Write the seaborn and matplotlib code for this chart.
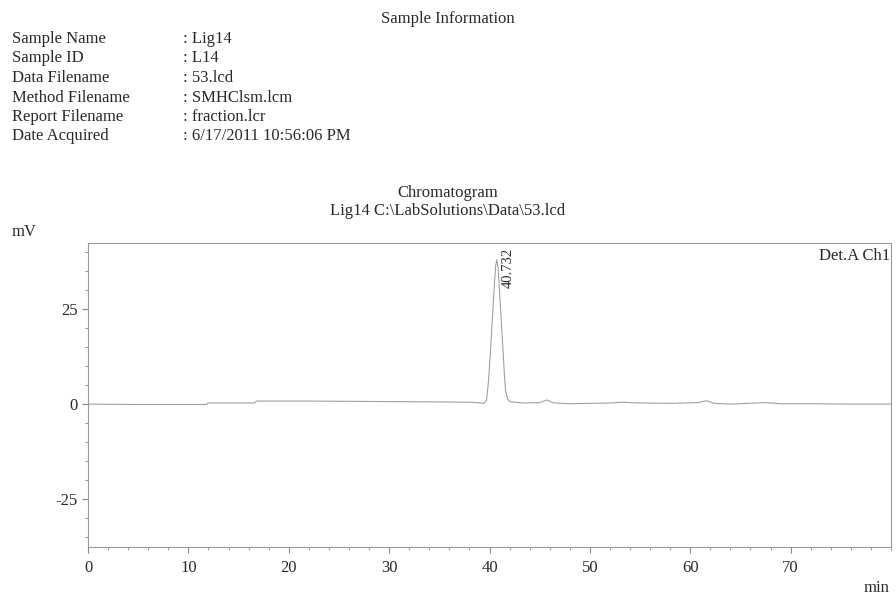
import matplotlib
matplotlib.use("Agg")
import matplotlib.pyplot as plt
import seaborn as sns
import pandas as pd
from matplotlib.ticker import MultipleLocator

# ---- data ----
time_min = [0, 5, 11.8, 12.0, 16.6, 16.8, 22, 28, 34, 38, 39.2, 39.43, 39.7, 39.9,
            40.1, 40.3, 40.5, 40.62, 40.73, 40.85, 40.95, 41.15, 41.35, 41.5, 41.6,
            41.8, 42.1, 42.5, 43.5, 45.0, 45.7, 46.4, 48, 50, 52, 53.2, 55, 58,
            60.8, 61.6, 62.4, 64, 67.5, 69, 72, 76, 80]
signal_mv = [0.0, -0.1, -0.1, 0.3, 0.3, 0.8, 0.8, 0.7, 0.6, 0.5, 0.3, 0.2, 1.0, 6.0,
             14.0, 23.0, 32.0, 36.5, 38.0, 36.0, 32.0, 23.0, 14.0, 7.0, 3.5,
             1.3, 0.6, 0.5, 0.3, 0.4, 1.1, 0.3, 0.1, 0.2, 0.3, 0.5, 0.3, 0.2,
             0.4, 0.9, 0.2, 0.0, 0.4, 0.1, 0.1, 0.0, 0.0]
peak_time = 40.732
x_ticks = [0, 10, 20, 30, 40, 50, 60, 70]
y_ticks = [-25, 0, 25]

info_labels = ["Sample Name", "Sample ID", "Data Filename", "Method Filename",
               "Report Filename", "Date Acquired"]
info_values = [": Lig14", ": L14", ": 53.lcd", ": SMHClsm.lcm", ": fraction.lcr",
               ": 6/17/2011 10:56:06 PM"]

df = pd.DataFrame({"t": time_min, "mv": signal_mv})

sns.set_theme(style="white")
plt.rcParams["font.family"] = ["Liberation Serif", "DejaVu Serif"]
plt.rcParams["axes.unicode_minus"] = False

W, H = 896, 596
fig = plt.figure(figsize=(W / 100, H / 100), dpi=100)
txt = "#2a2a2a"
fs = 12

def fx(px):
    return px / W

def fy(py):
    return 1 - py / H

fig.text(fx(448), fy(19), "Sample Information", ha="center", va="center",
         fontsize=fs, color=txt)
row_y = [39, 58.5, 78, 97.5, 117, 136.5]
for lab, val, y in zip(info_labels, info_values, row_y):
    fig.text(fx(12), fy(y), lab, ha="left", va="center", fontsize=fs, color=txt)
    fig.text(fx(183), fy(y), val, ha="left", va="center", fontsize=fs, color=txt)

fig.text(fx(448), fy(193), "Chromatogram", ha="center", va="center", fontsize=fs, color=txt)
fig.text(fx(448), fy(211), "Lig14 C:\\LabSolutions\\Data\\53.lcd", ha="center",
         va="center", fontsize=fs, color=txt)

ax = fig.add_axes([fx(88), fy(547), (891 - 88) / W, (547 - 243) / H])
sns.lineplot(data=df, x="t", y="mv", ax=ax, color="#a0a0a0", linewidth=0.8,
             estimator=None, sort=False)
ax.set_xlim(0, 80)
ax.set_ylim(-37.6, 42.4)
ax.set_xlabel("")
ax.set_ylabel("")
ax.set_xticks(x_ticks)
ax.set_yticks(y_ticks)
ax.xaxis.set_minor_locator(MultipleLocator(2))
ax.yaxis.set_minor_locator(MultipleLocator(5))
ax.tick_params(axis="both", which="major", direction="out", length=4, width=0.8,
               color="#888888", labelsize=fs, labelcolor=txt)
ax.tick_params(axis="x", which="major", pad=5)
ax.tick_params(axis="y", which="major", pad=3.5)
ax.tick_params(axis="both", which="minor", direction="out", length=2.5, width=0.7,
               color="#999999")
ax.tick_params(axis="both", which="both", bottom=True, left=True)
for s in ax.spines.values():
    s.set_color("#9a9a9a")
    s.set_linewidth(0.8)

ax.annotate(f"{peak_time:.3f}", xy=(peak_time, ax.get_ylim()[1]), xytext=(8.5, -3.5),
            textcoords="offset points", xycoords="data",
            ha="center", va="top", rotation=90, fontsize=10.5, color=txt,
            annotation_clip=False)
ax.text(0.9985, 0.985, "Det.A Ch1", transform=ax.transAxes, ha="right", va="top",
        fontsize=fs, color=txt)

fig.text(fx(24), fy(232), "mV", ha="center", va="center", fontsize=fs, color=txt)
fig.text(fx(877), fy(588), "min", ha="center", va="center", fontsize=fs, color=txt)

fig.savefig("out.png", dpi=100, facecolor="white")
